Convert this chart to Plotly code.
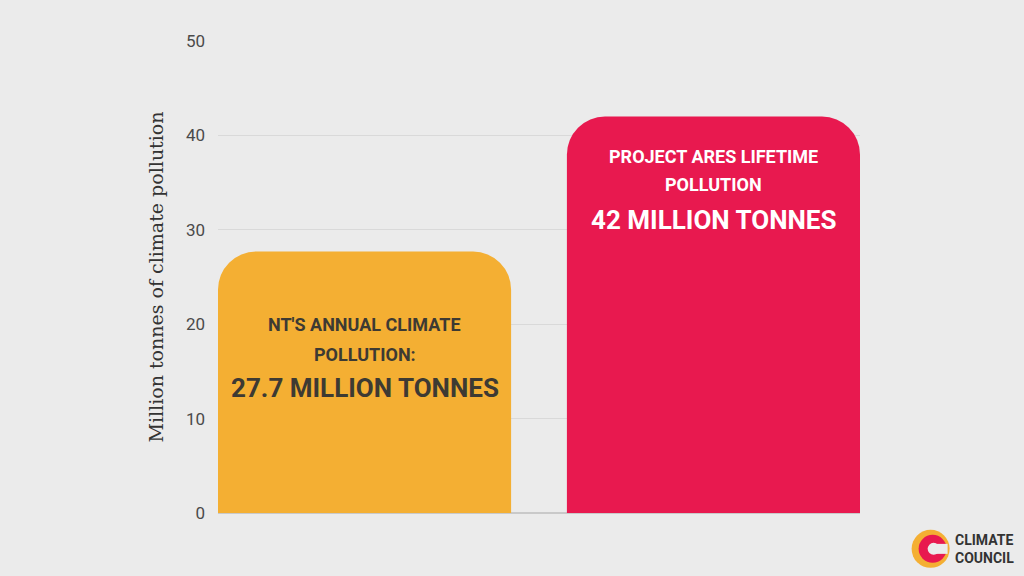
import plotly.graph_objects as go

# Données du graphique
categorias = ["NT annual", "Project Ares lifetime"]
valores = [27.7, 42]
cores = ["#F4AF33", "#E8194F"]
rotulos_linha1 = ["NT'S ANNUAL CLIMATE", "PROJECT ARES LIFETIME"]
rotulos_linha2 = ["POLLUTION:", "POLLUTION"]
rotulos_valor = ["27.7 MILLION TONNES", "42 MILLION TONNES"]
cores_texto = ["#3d3a33", "#ffffff"]
y_ticks = [0, 10, 20, 30, 40, 50]

fundo = "#ebebeb"
fonte_cond = "Roboto, sans-serif"

fig = go.Figure()
fig.add_trace(go.Bar(
    x=categorias,
    y=valores,
    marker=dict(color=cores, line=dict(width=0)),
    width=0.84,
    hoverinfo="skip",
))

# Textos dentro das barras (deslocamento em pixels a partir do topo da barra)
desloc = [(-73, -103, -136), (-40, -68, -103)]
for i, cat in enumerate(categorias):
    d1, d2, d3 = desloc[i]
    for texto, dy, tam in [(rotulos_linha1[i], d1, 18), (rotulos_linha2[i], d2, 18), (rotulos_valor[i], d3, 26)]:
        fig.add_annotation(
            x=cat, y=valores[i], xref="x", yref="y",
            text="<b>" + texto + "</b>",
            showarrow=False, yanchor="middle", yshift=dy,
            font=dict(family=fonte_cond, size=tam, color=cores_texto[i]),
        )

# Logo Climate Council
lx, ly = 1.11, -0.076
fig.add_shape(type="circle", xref="paper", yref="paper", xsizemode="pixel", ysizemode="pixel",
              xanchor=lx, yanchor=ly, x0=-19, x1=19, y0=-19, y1=19,
              fillcolor="#F4AF33", line=dict(width=0), layer="above")
fig.add_shape(type="circle", xref="paper", yref="paper", xsizemode="pixel", ysizemode="pixel",
              xanchor=lx, yanchor=ly, x0=-12, x1=16, y0=-14, y1=14,
              fillcolor="#E8194F", line=dict(width=0), layer="above")
fig.add_shape(type="circle", xref="paper", yref="paper", xsizemode="pixel", ysizemode="pixel",
              xanchor=lx, yanchor=ly, x0=-3, x1=9, y0=-6, y1=6,
              fillcolor=fundo, line=dict(width=0), layer="above")
fig.add_shape(type="rect", xref="paper", yref="paper", xsizemode="pixel", ysizemode="pixel",
              xanchor=lx, yanchor=ly, x0=3, x1=17, y0=-5, y1=5,
              fillcolor=fundo, line=dict(width=0), layer="above")
fig.add_annotation(
    x=1.145, y=ly, xref="paper", yref="paper", xanchor="left", yanchor="middle",
    text="<b>CLIMATE<br>COUNCIL</b>", showarrow=False, align="left",
    font=dict(family=fonte_cond, size=14, color="#333333"),
)

fig.update_layout(
    width=1024, height=576,
    margin=dict(l=218, r=164, t=41, b=63),
    paper_bgcolor=fundo, plot_bgcolor=fundo,
    showlegend=False,
    barcornerradius=38,
    xaxis=dict(range=[-0.42, 1.42], showticklabels=False, showgrid=False,
               zeroline=False, showline=False, fixedrange=True),
    yaxis=dict(
        range=[0, 50], tickvals=y_ticks,
        tickfont=dict(family="Roboto, sans-serif", size=17, color="#4a4a4a"),
        ticklabelstandoff=12,
        gridcolor="#d9d9d9", gridwidth=1,
        zeroline=True, zerolinecolor="#c9c9c9", zerolinewidth=1.5,
        showline=False,
        title=dict(text="Million tonnes of climate pollution", standoff=17,
                   font=dict(family="DejaVu Serif, Liberation Serif, serif", size=19, color="#333333")),
    ),
)

fig.write_html("out.html", config={"displayModeBar": False},
               post_script="document.body.style.margin='0';")
